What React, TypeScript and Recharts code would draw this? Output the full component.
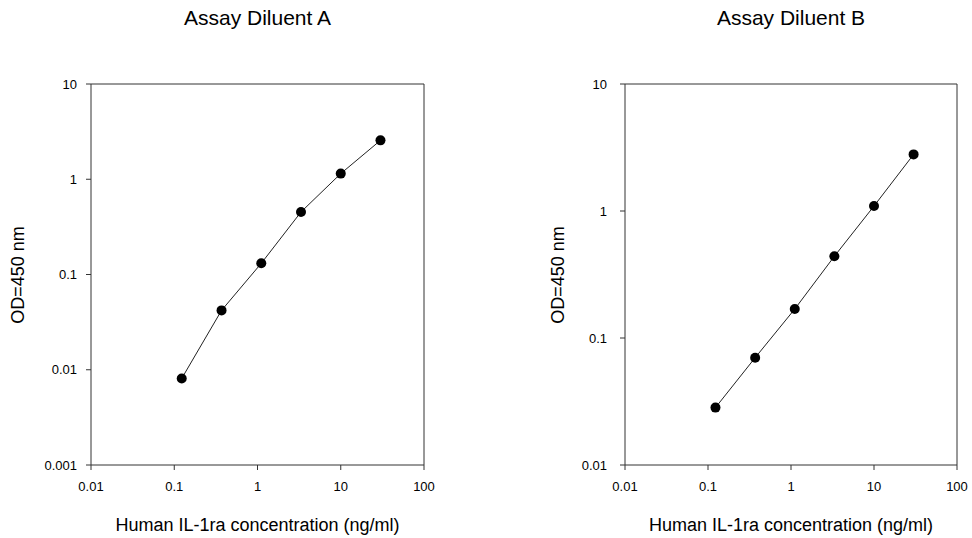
import React from "react"
import { Line, LineChart, ReferenceLine, XAxis, YAxis } from "recharts"

// threefold dilution series (ng/ml)
const concentrations = [0.123, 0.37, 1.11, 3.33, 10, 30]
const odDiluentA = [0.0081, 0.042, 0.131, 0.453, 1.146, 2.56]
const odDiluentB = [0.0283, 0.07, 0.169, 0.44, 1.094, 2.79]

const xTicks = [0.01, 0.1, 1, 10, 100]
const yTicksA = [0.001, 0.01, 0.1, 1, 10]
const yTicksB = [0.01, 0.1, 1, 10]

const FONT = "'Liberation Sans', Arial, sans-serif"
const AXIS = "#333333"

type PanelProps = {
  title: string
  values: number[]
  yTicks: number[]
  left: number
  margin: { top: number; right: number; bottom: number; left: number }
  yTickMargin: number
  yLabelX: number
}

function Panel({ title, values, yTicks, left, margin, yTickMargin, yLabelX }: PanelProps) {
  const data = concentrations.map((x, i) => ({ x, y: values[i] }))
  const plotLeft = margin.left + 60
  const plotRight = 486 - margin.right
  const centerX = (plotLeft + plotRight) / 2

  return (
    <div style={{ position: "absolute", left, top: 0, width: 486, height: 538 }}>
      <div
        style={{
          position: "absolute",
          left: centerX - 150,
          width: 300,
          top: 5,
          textAlign: "center",
          fontSize: 21,
          lineHeight: "26px",
        }}
      >
        {title}
      </div>
      <LineChart
        data={data}
        width={486}
        height={538}
        margin={margin}
        style={{ position: "absolute", left: 0, top: 0 }}
      >
        <XAxis
          dataKey="x"
          type="number"
          scale="log"
          domain={[0.01, 100]}
          ticks={xTicks}
          allowDataOverflow
          height={30}
          stroke={AXIS}
          tickSize={5}
          tickMargin={12}
          fontSize={13}
          tick={{ fill: "#000", fontSize: 13 }}
        />
        <YAxis
          dataKey="y"
          type="number"
          scale="log"
          domain={[yTicks[0], yTicks[yTicks.length - 1]]}
          ticks={yTicks}
          allowDataOverflow
          width={60}
          stroke={AXIS}
          tickSize={5}
          tickMargin={yTickMargin}
          fontSize={13}
          tick={{ fill: "#000", fontSize: 13 }}
        />
        <ReferenceLine y={yTicks[yTicks.length - 1]} stroke={AXIS} />
        <ReferenceLine x={100} stroke={AXIS} />
        <Line
          dataKey="y"
          type="linear"
          stroke="#222"
          strokeWidth={1}
          dot={{ r: 5, fill: "#000", stroke: "#000", strokeWidth: 0 }}
          activeDot={false}
          isAnimationActive={false}
        />
      </LineChart>
      <div
        style={{
          position: "absolute",
          left: yLabelX - 100,
          top: 275 - 12,
          width: 200,
          height: 24,
          lineHeight: "24px",
          textAlign: "center",
          fontSize: 18,
          transform: "rotate(-90deg)",
        }}
      >
        OD=450 nm
      </div>
      <div
        style={{
          position: "absolute",
          left: centerX - 200,
          width: 400,
          top: 513,
          textAlign: "center",
          fontSize: 18,
          lineHeight: "24px",
        }}
      >
        Human IL-1ra concentration (ng/ml)
      </div>
    </div>
  )
}

export default function App() {
  return (
    <div
      style={{
        position: "absolute",
        left: 0,
        top: 0,
        width: 972,
        height: 538,
        background: "#fff",
        fontFamily: FONT,
        color: "#000",
      }}
    >
      <Panel
        title="Assay Diluent A"
        values={odDiluentA}
        yTicks={yTicksA}
        left={0}
        margin={{ top: 84, right: 62, bottom: 43, left: 31 }}
        yTickMargin={9}
        yLabelX={18}
      />
      <Panel
        title="Assay Diluent B"
        values={odDiluentB}
        yTicks={yTicksB}
        left={486}
        margin={{ top: 84, right: 15, bottom: 43, left: 79 }}
        yTickMargin={13}
        yLabelX={72}
      />
    </div>
  )
}
